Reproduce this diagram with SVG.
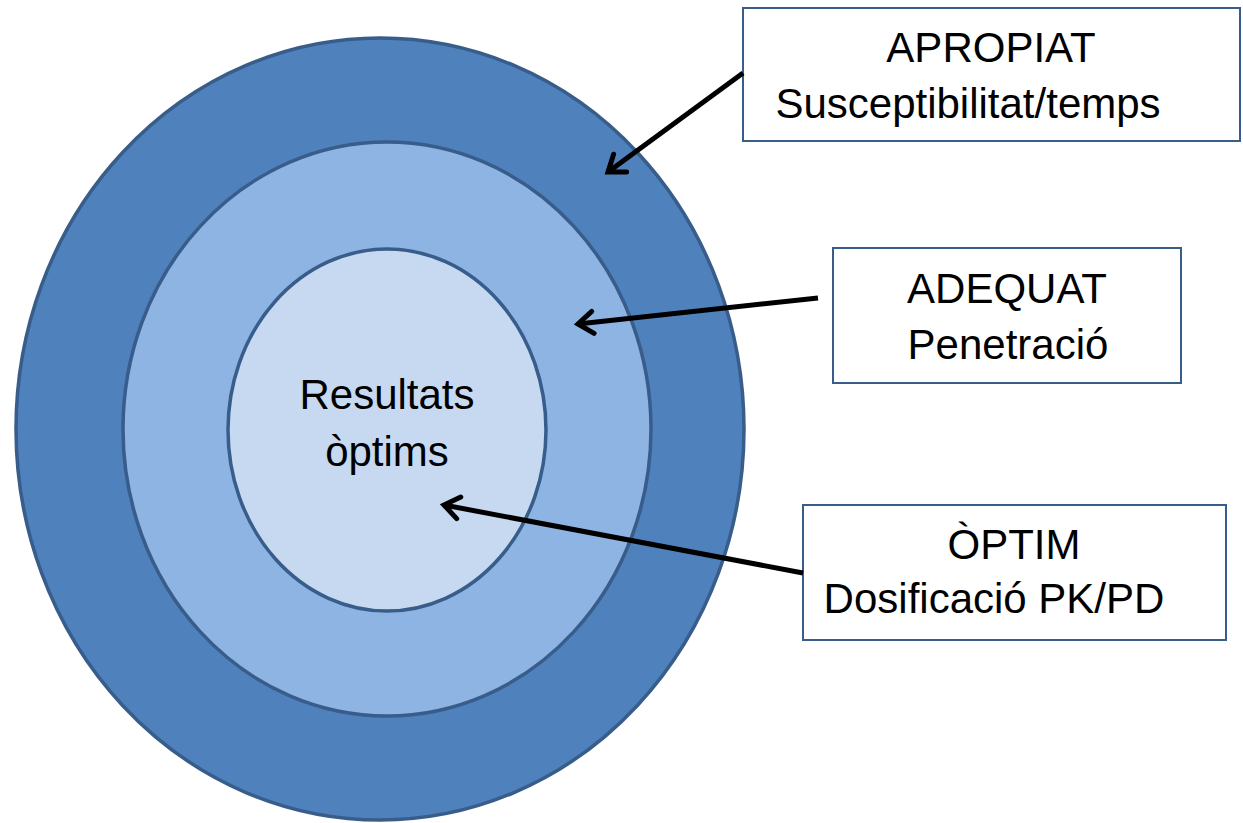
<svg xmlns="http://www.w3.org/2000/svg" width="1243" height="823" viewBox="0 0 1243 823">
<style>
.ring{stroke:#385D8A;stroke-width:3.5}
.box{fill:#FFFFFF;stroke:#385D8A;stroke-width:2}
.t{font-family:"Liberation Sans",Arial,sans-serif;font-size:42px;fill:#000;text-anchor:middle}
.arr{stroke:#000;stroke-width:5;fill:none}
</style>
<defs>
<marker id="ah" markerUnits="userSpaceOnUse" markerWidth="30" markerHeight="30" refX="20" refY="14" orient="auto" overflow="visible">
<path d="M5,3 L20,14 L5,25" fill="none" stroke="#000" stroke-width="5" stroke-linecap="round" stroke-linejoin="miter"/>
</marker>
</defs>
<rect width="1243" height="823" fill="#FFFFFF"/>
<g id="outer"><ellipse class="ring" cx="380" cy="429" rx="364" ry="391" fill="#4F81BD"/></g>
<g id="middle"><ellipse class="ring" cx="387" cy="429" rx="264" ry="287" fill="#8EB4E3"/></g>
<g id="inner"><ellipse class="ring" cx="387" cy="430" rx="159" ry="181" fill="#C6D9F1"/>
<text class="t" x="387" y="409">Resultats</text>
<text class="t" x="387" y="466">òptims</text></g>
<g id="box-apropiat"><rect class="box" x="743" y="8" width="497" height="133"/>
<text class="t" x="991" y="62">APROPIAT</text>
<text class="t" x="968" y="118">Susceptibilitat/temps</text></g>
<g id="box-adequat"><rect class="box" x="833" y="248" width="348" height="135"/>
<text class="t" x="1007" y="303">ADEQUAT</text>
<text class="t" x="1008" y="359">Penetració</text></g>
<g id="box-optim"><rect class="box" x="803" y="505" width="423" height="135"/>
<text class="t" x="1014" y="559">ÒPTIM</text>
<text class="t" x="994" y="613">Dosificació PK/PD</text></g>
<g id="connectors">
<line class="arr" x1="743" y1="73" x2="608" y2="172" marker-end="url(#ah)"/>
<line class="arr" x1="818" y1="298" x2="578" y2="324" marker-end="url(#ah)"/>
<line class="arr" x1="803" y1="573" x2="444" y2="505" marker-end="url(#ah)"/>
</g>
</svg>
